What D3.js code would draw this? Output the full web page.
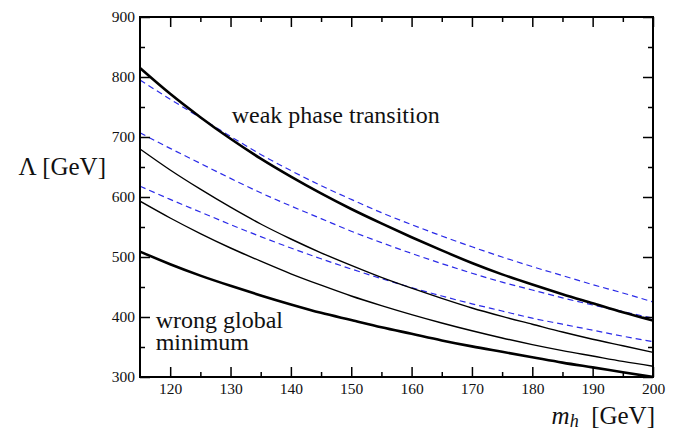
<!DOCTYPE html>
<html lang="en">
<head>
<meta charset="UTF-8">
<title>Lambda vs m_h</title>
<script src="https://d3js.org/d3.v7.min.js"></script>
<style>
  body { margin: 0; background: #fff; }
</style>
</head>
<body>
<div id="chart"></div>
<script>

var serif = "'Liberation Serif', 'DejaVu Serif', serif";

// higgs mass grid (GeV)
var mh = [115, 120, 125, 130, 135, 140, 145, 150, 155, 160, 165, 170, 175, 180, 185, 190, 195, 200];

// solid black curves
var thickTop    = [815, 772, 733, 697, 664, 634, 606, 580, 556, 533, 511, 490, 471, 454, 438, 423, 408, 394];
var thinUpper   = [680, 645, 613, 583, 555, 530, 507, 486, 466, 448, 431, 415, 401, 388, 375, 363, 352, 341];
var thinLower   = [593, 565, 539, 515, 493, 472, 453, 435, 419, 404, 390, 377, 365, 354, 344, 335, 326, 318];
var thickBottom = [509, 488, 469, 452, 436, 421, 407, 395, 383, 372, 361, 351, 342, 333, 324, 316, 308, 300];

// blue dashed curves
var dashTop = [795, 763, 732, 701, 671, 644, 619, 596, 574, 554, 535, 517, 500, 484, 469, 454, 440, 425];
var dashMid = [707, 681, 656, 631, 607, 585, 564, 543, 524, 506, 489, 473, 458, 445, 432, 420, 409, 398];
var dashLow = [618, 596, 575, 554, 534, 515, 497, 480, 464, 449, 435, 422, 410, 398, 388, 378, 368, 359];

var xMajor = [120, 130, 140, 150, 160, 170, 180, 190, 200];
var xMinor = [125, 135, 145, 155, 165, 175, 185, 195];
var yMajor = [300, 400, 500, 600, 700, 800, 900];
var yMinor = [350, 450, 550, 650, 750, 850];

var margin = {top: 17, right: 35, bottom: 53, left: 140},
    width = 688 - margin.left - margin.right,
    height = 430 - margin.top - margin.bottom;

var svg = d3.select("#chart")
  .append("svg")
    .attr("width", 688)
    .attr("height", 430)
  .append("g")
    .attr("transform", "translate(" + margin.left + "," + margin.top + ")");

var x = d3.scaleLinear().domain([115, 200]).range([0, width]);
var y = d3.scaleLinear().domain([300, 900]).range([height, 0]);

var line = d3.line()
  .x(function(d) { return x(d[0]); })
  .y(function(d) { return y(d[1]); })
  .curve(d3.curveMonotoneX);

var curves = [
  {vals: dashTop, color: "#2a2ae8", w: 1.2, dash: "6,4"},
  {vals: dashMid, color: "#2a2ae8", w: 1.2, dash: "6,4"},
  {vals: dashLow, color: "#2a2ae8", w: 1.2, dash: "6,4"},
  {vals: thickTop, color: "#000", w: 2.6, dash: null},
  {vals: thinUpper, color: "#000", w: 1.4, dash: null},
  {vals: thinLower, color: "#000", w: 1.4, dash: null},
  {vals: thickBottom, color: "#000", w: 2.6, dash: null}
];

var plot = svg.append("g");
plot.append("clipPath").attr("id", "clip")
  .append("rect").attr("width", width).attr("height", height);

plot.selectAll("path.curve")
  .data(curves)
  .enter()
  .append("path")
    .attr("class", "curve")
    .attr("clip-path", "url(#clip)")
    .attr("d", function(c) { return line(mh.map(function(m, i) { return [m, c.vals[i]]; })); })
    .attr("fill", "none")
    .attr("stroke", function(c) { return c.color; })
    .attr("stroke-width", function(c) { return c.w; })
    .attr("stroke-dasharray", function(c) { return c.dash; });

// axes with inward ticks on all four sides
function addAxis(axis, tr, vals, size, labels) {
  var g = svg.append("g")
    .attr("transform", tr)
    .call(axis.tickValues(vals).tickSize(size).tickSizeOuter(0)
      .tickFormat(labels ? d3.format("d") : ""));
  g.attr("font-family", null);
  g.select(".domain").remove();
  g.selectAll("line").attr("stroke", "#000").attr("stroke-width", 1.5);
  g.selectAll("text")
    .style("font-family", serif)
    .style("font-size", "15.5px")
    .attr("fill", "#111");
  return g;
}

var bx = addAxis(d3.axisBottom(x), "translate(0," + height + ")", xMajor, -10, true);
bx.selectAll("text").attr("y", 6).attr("dy", "0.71em");
addAxis(d3.axisBottom(x), "translate(0," + height + ")", xMinor, -5, false);
addAxis(d3.axisTop(x), "translate(0,0)", xMajor, -10, false);
addAxis(d3.axisTop(x), "translate(0,0)", xMinor, -5, false);

var ly = addAxis(d3.axisLeft(y), "translate(0,0)", yMajor, -10, true);
ly.selectAll("text").attr("x", -5);
addAxis(d3.axisLeft(y), "translate(0,0)", yMinor, -5, false);
addAxis(d3.axisRight(y), "translate(" + width + ",0)", yMajor, -10, false);
addAxis(d3.axisRight(y), "translate(" + width + ",0)", yMinor, -5, false);

// frame
svg.append("rect")
  .attr("width", width)
  .attr("height", height)
  .attr("fill", "none")
  .attr("stroke", "#000")
  .attr("stroke-width", 2);

// annotations
function label(px, py, size, txt) {
  return svg.append("text")
    .attr("x", px)
    .attr("y", py)
    .style("font-family", serif)
    .style("font-size", size)
    .attr("fill", "#111")
    .text(txt);
}

label(x(130.2), y(723), "24px", "weak phase transition");

// two-line label kept in one text element
var wg = label(x(117.6), y(381), "24px", null);
wg.append("tspan").attr("x", x(117.6)).text("wrong global");
wg.append("tspan").attr("x", x(117.6)).attr("dy", 21.6).text("minimum");

// axis titles
label(-34, y(636), "25px", "\u039B [GeV]").attr("text-anchor", "end");

var xt = label(width + 2, height + 47, "25px", null).attr("text-anchor", "end");
xt.append("tspan").style("font-style", "italic").text("m");
xt.append("tspan").style("font-style", "italic").style("font-size", "18px").attr("dy", 3).text("h");
xt.append("tspan").attr("dy", -3).text("\u2002[GeV]");

</script>
</body>
</html>
